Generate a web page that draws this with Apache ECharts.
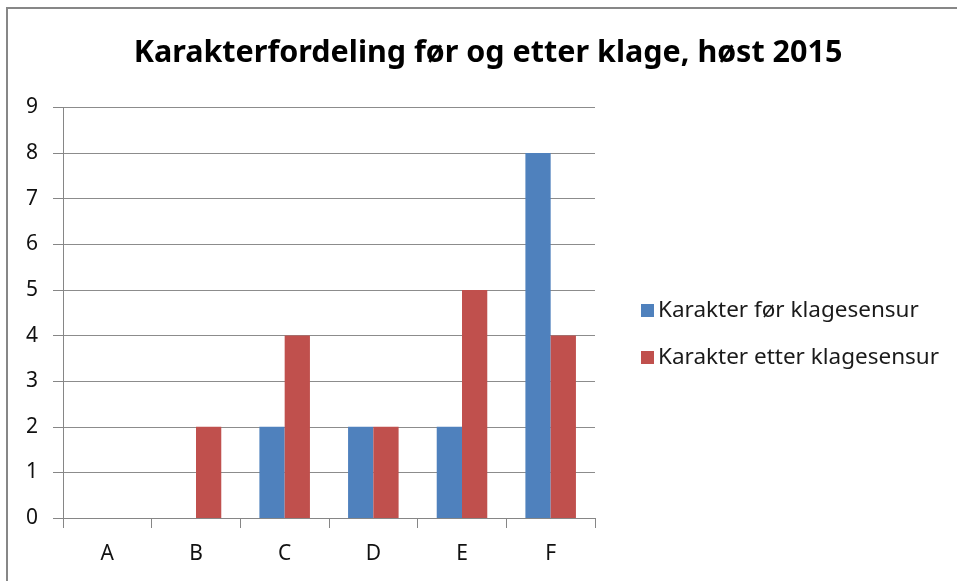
<!DOCTYPE html>
<html>
<head>
<meta charset="utf-8">
<script src="https://cdn.jsdelivr.net/npm/echarts@6/dist/echarts.min.js"></script>
<style>
  html, body { margin: 0; padding: 0; background: #fff; }
  #frame {
    position: absolute;
    left: 6px;
    top: 7px;
    width: 951px;
    height: 574px;
    border-top: 2px solid #878787;
    border-left: 2px solid #878787;
  }
  #chart_example {
    position: absolute;
    left: 0;
    top: 0;
    width: 957px;
    height: 581px;
  }
</style>
</head>
<body>
<div id="frame"></div>
<div id="chart_example"></div>
<script>
  // kategorier og verdier
  var karakterer = ['A', 'B', 'C', 'D', 'E', 'F'];
  var seriesNames = ['Karakter før klagesensur', 'Karakter etter klagesensur'];
  var forKlage = [0, 0, 2, 2, 2, 8];
  var etterKlage = [0, 2, 4, 2, 5, 4];
  var yTicks = [0, 1, 2, 3, 4, 5, 6, 7, 8, 9];

  var font = 'Noto Sans';
  var myChart = echarts.init(document.getElementById('chart_example'));
  var option = {
    animation: false,
    color: ['#4F81BD', '#C0504D'],
    title: {
      text: 'Karakterfordeling før og etter klage, høst 2015',
      left: 483,
      textAlign: 'center',
      top: 33,
      textStyle: {
        fontFamily: font,
        fontSize: 30.5,
        fontWeight: 'bold',
        color: '#000'
      }
    },
    legend: {
      orient: 'vertical',
      left: 636,
      top: 294,
      itemWidth: 13,
      itemHeight: 13,
      itemGap: 24,
      icon: 'rect',
      textStyle: {
        fontFamily: font,
        fontSize: 22.5,
        color: '#1a1a1a',
        padding: [0, 0, 0, -1]
      },
      data: seriesNames
    },
    grid: {
      left: 63,
      right: 362,
      top: 107.5,
      bottom: 63,
      containLabel: false
    },
    xAxis: {
      type: 'category',
      data: karakterer,
      axisLine: { lineStyle: { color: '#868686', width: 1 } },
      axisTick: { show: true, length: 10, lineStyle: { color: '#868686' } },
      axisLabel: {
        margin: 26,
        fontFamily: font,
        fontSize: 21,
        color: '#111'
      }
    },
    yAxis: {
      type: 'value',
      min: yTicks[0],
      max: yTicks[yTicks.length - 1],
      interval: 1,
      axisLine: { show: true, lineStyle: { color: '#868686', width: 1 } },
      axisTick: { show: true, length: 10, lineStyle: { color: '#868686' } },
      splitLine: { lineStyle: { color: '#8c8c8c', width: 1 } },
      axisLabel: {
        margin: 25,
        fontFamily: font,
        fontSize: 21,
        color: '#111'
      }
    },
    series: [
      {
        name: seriesNames[0],
        type: 'bar',
        data: forKlage,
        barGap: '0%',
        barCategoryGap: '43%'
      },
      {
        name: seriesNames[1],
        type: 'bar',
        data: etterKlage,
        barGap: '0%',
        barCategoryGap: '43%'
      }
    ]
  };
  myChart.setOption(option);
</script>
</body>
</html>
